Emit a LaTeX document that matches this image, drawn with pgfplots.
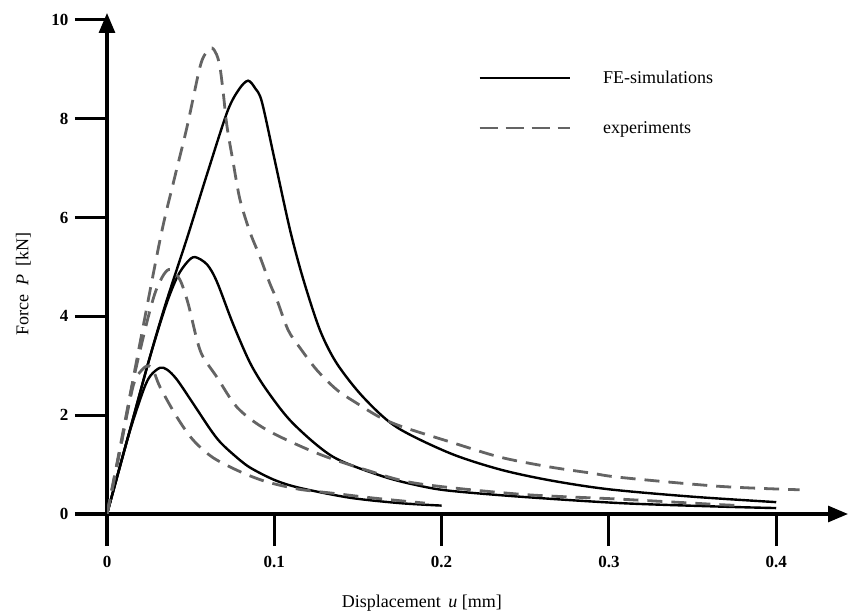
\documentclass[border=0pt]{standalone}
\usepackage{fontspec}
\setmainfont{Liberation Serif}
\usepackage{pgfplots}
\pgfplotsset{compat=1.18}
\usetikzlibrary{arrows.meta}
\definecolor{expgray}{RGB}{100,100,100}

\begin{document}
\begin{tikzpicture}
\begin{axis}[
    at={(107bp,101bp)}, anchor=south west,
    scale only axis,
    width=741bp, height=501bp,
    xmin=0, xmax=0.4429,
    ymin=0, ymax=10.14,
    enlargelimits=false,
    axis lines=left,
    axis line style={line width=3bp, -{Triangle[length=20bp,width=16bp]}},
    tick align=outside,
    major tick length=32bp,
    tick style={line width=3bp, black},
    xtick={0,0.1,0.2,0.3,0.4},
    ytick={0,2,4,6,8,10},
    /pgf/number format/assume math mode=true,
    ticklabel style={font=\bfseries\fontsize{17bp}{20bp}\selectfont},
    xticklabel style={yshift=-7bp},
    yticklabel style={xshift=-3bp},
    xlabel={Displacement\, \textit{u} [mm]},
    ylabel={Force\; \textit{P}\, [kN]},
    label style={font=\fontsize{18bp}{21bp}\selectfont},
    xlabel style={at={(axis description cs:0.425,-0.178)}, anchor=center},
    ylabel style={at={(axis description cs:-0.113,0.459)}, anchor=center, rotate=0},
    legend style={at={(axis cs:0.2218,8.32)}, anchor=west, draw=none, fill=none,
        inner sep=0pt, row sep=36bp, column sep=32bp,
        nodes={inner sep=0pt},
        font=\fontsize{18bp}{21bp}\selectfont},
    legend cell align=left,
    legend image code/.code={\draw[#1] (0bp,0bp) -- (90bp,0bp);},
    fe/.style={black, line width=2.4bp, smooth, tension=0.5},
    ex/.style={expgray, line width=2.8bp, dash pattern=on 15bp off 9bp, smooth, tension=0.5},
]
% FE-simulations
\addplot[fe, forget plot] coordinates {
(0,0) (0.0125,1.55) (0.0217,2.5) (0.026,2.8) (0.0317,2.96) (0.036,2.92)
(0.0418,2.72) (0.0514,2.24) (0.0616,1.72) (0.0675,1.46) (0.075,1.22)
(0.085,0.95) (0.1,0.69) (0.115,0.53) (0.145,0.33) (0.175,0.22) (0.2,0.17)};
\addplot[fe, forget plot] coordinates {
(0,0) (0.0125,1.55) (0.025,3.1) (0.035,4.2) (0.042,4.8) (0.048,5.1)
(0.0526,5.2) (0.0598,5.05) (0.0657,4.7) (0.0753,3.85) (0.0855,3.06)
(0.0956,2.5) (0.111,1.84) (0.135,1.16) (0.165,0.76) (0.187,0.57)
(0.205,0.47) (0.247,0.35) (0.307,0.22) (0.366,0.15) (0.4,0.12)};
\addplot[fe, forget plot] coordinates {
(0,0) (0.0125,1.55) (0.025,3.1) (0.035,4.25) (0.048,5.6) (0.06,6.9)
(0.072,8.15) (0.079,8.6) (0.0843,8.77) (0.0885,8.62) (0.0925,8.35)
(0.1,7.2) (0.1094,5.75) (0.1174,4.74) (0.1273,3.72) (0.1373,3.05)
(0.153,2.37) (0.173,1.76) (0.205,1.23) (0.235,0.90)
(0.265,0.68) (0.3,0.50) (0.35,0.35) (0.4,0.24)};
% experiments
\addplot[ex, forget plot] coordinates {
(0,0) (0.0037,0.6) (0.0078,1.3) (0.0157,2.6) (0.021,2.92) (0.025,3.0)
(0.028,2.88) (0.0317,2.57) (0.0418,1.96) (0.0514,1.5) (0.0634,1.14)
(0.08,0.85) (0.0956,0.65) (0.115,0.5) (0.135,0.42) (0.16,0.32) (0.19,0.22)};
\addplot[ex, forget plot] coordinates {
(0,0) (0.0078,1.3) (0.0157,2.7) (0.024,3.9) (0.029,4.5) (0.034,4.85)
(0.038,4.95) (0.0436,4.74) (0.0484,4.27) (0.0538,3.52) (0.0574,3.18)
(0.0657,2.77) (0.078,2.15) (0.0956,1.70) (0.1255,1.23) (0.155,0.89)
(0.185,0.62) (0.247,0.40) (0.307,0.30) (0.366,0.19) (0.38,0.17)};
\addplot[ex, forget plot] coordinates {
(0,0) (0.0078,1.35) (0.0157,2.75) (0.0317,5.55) (0.04,6.75) (0.0478,7.83)
(0.0556,9.05) (0.0595,9.35) (0.0628,9.43) (0.0655,9.3) (0.0675,9.05)
(0.0695,8.52) (0.0717,7.85) (0.0755,7.1) (0.0795,6.36) (0.0855,5.7)
(0.0915,5.2) (0.0974,4.66) (0.1016,4.33) (0.1083,3.72) (0.1154,3.36)
(0.1255,2.91) (0.1375,2.51) (0.1494,2.24) (0.163,1.96) (0.177,1.76)
(0.205,1.46) (0.235,1.15) (0.265,0.95)
(0.289,0.83) (0.307,0.74) (0.366,0.56) (0.414,0.49)};
\addlegendimage{black, line width=2.4bp}
\addlegendentry{FE-simulations}
\addlegendimage{expgray, line width=2.8bp, dash pattern=on 18bp off 8bp}
\addlegendentry{experiments}
\end{axis}
\pgfresetboundingbox
\useasboundingbox (0,0) rectangle (848bp,615bp);
\end{tikzpicture}
\end{document}
